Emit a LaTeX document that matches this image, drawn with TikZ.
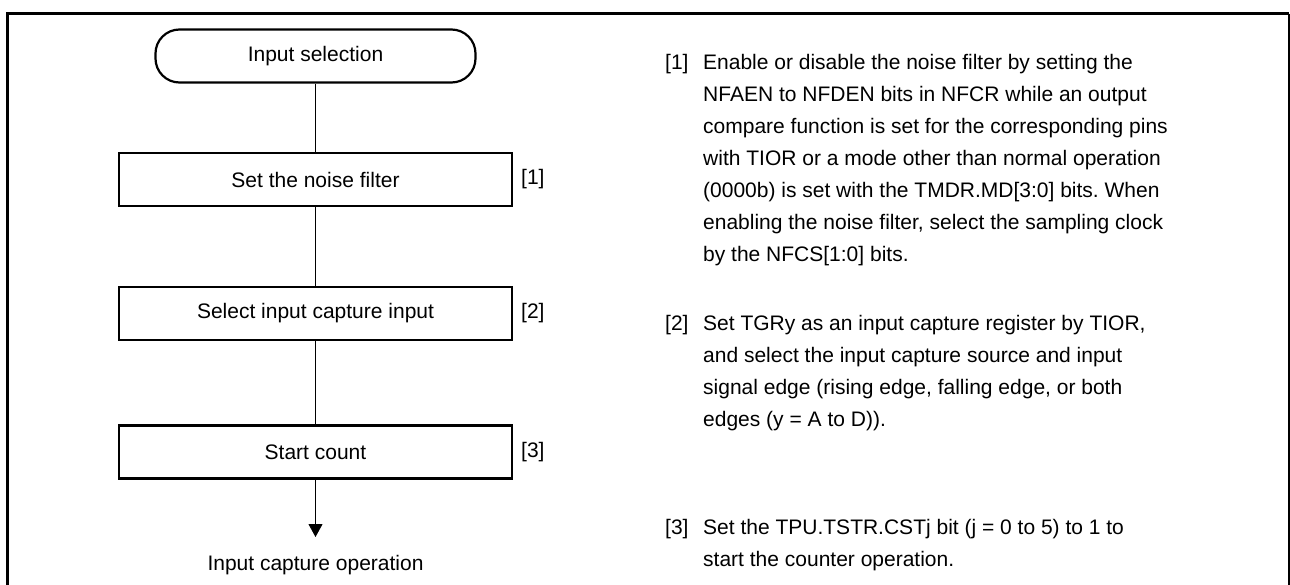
\documentclass[tikz,border=0pt]{standalone}
\usepackage{fontspec}
\setmainfont{Liberation Sans}
\usetikzlibrary{arrows.meta}
\frenchspacing
\begin{document}
\begin{tikzpicture}[x=1pt,y=-1pt,
  every node/.style={font=\fontsize{21}{32}\selectfont, inner sep=0pt},
  procbox/.style={draw, line width=2.6pt, minimum width=393pt, minimum height=53pt},
  termbox/.style={draw, line width=2.2pt, rounded corners=24pt, minimum width=320pt, minimum height=53pt},
  conn/.style={line width=0.9pt},
  steplabel/.style={anchor=west},
  notepara/.style={anchor=base west}
]
\useasboundingbox (0,0) rectangle (1290,584);
% frame
\draw[line width=3pt] (7.3,600) -- (7.3,13.5) -- (1289.3,13.5);
\draw[line width=1.8pt] (1289.2,13.5) -- (1289.2,600);
% flow
\node[termbox] (start) at (315.5,56) {Input selection};
\node[procbox] (s1) at (315.5,179.5) {Set the noise filter};
\node[procbox] (s2) at (315.5,313.5) {Select input capture input};
\node[procbox] (s3) at (315.5,452) {Start count};
\node[steplabel] (l1) at (521,179.5) {[1]};
\node[steplabel] (l2) at (521,313.5) {[2]};
\node[steplabel] (l3) at (521,452) {[3]};
\coordinate (tip) at (315.5,537);
\node (out) at (315.5,565) {Input capture operation};
\draw[conn] (start) -- (s1);
\draw[conn] (s1) -- (s2);
\draw[conn] (s2) -- (s3);
\draw[conn,-{Triangle[width=14pt,length=13pt]}] (s3) -- (tip);
% notes
\node[notepara] (n1l) at (665,69.5) {[1]};
\node[notepara] (n1) at (703,69.5) {\parbox[t]{560pt}{\fontsize{21}{32}\selectfont\raggedright
Enable or disable the noise filter by setting the\\
NFAEN to NFDEN bits in NFCR while an output\\
compare function is set for the corresponding pins\\
with TIOR or a mode other than normal operation\\
(0000b) is set with the TMDR.MD[3:0] bits. When\\
enabling the noise filter, select the sampling clock\\
by the NFCS[1:0] bits.}};
\node[notepara] (n2l) at (665,330.5) {[2]};
\node[notepara] (n2) at (703,330.5) {\parbox[t]{560pt}{\fontsize{21}{32}\selectfont\raggedright
Set TGRy as an input capture register by TIOR,\\
and select the input capture source and input\\
signal edge (rising edge, falling edge, or both\\
edges (y = A to D)).}};
\node[notepara] (n3l) at (665,534.5) {[3]};
\node[notepara] (n3) at (703,534.5) {\parbox[t]{560pt}{\fontsize{21}{32}\selectfont\raggedright
Set the TPU.TSTR.CSTj bit (j = 0 to 5) to 1 to\\
start the counter operation.}};
\end{tikzpicture}
\end{document}
